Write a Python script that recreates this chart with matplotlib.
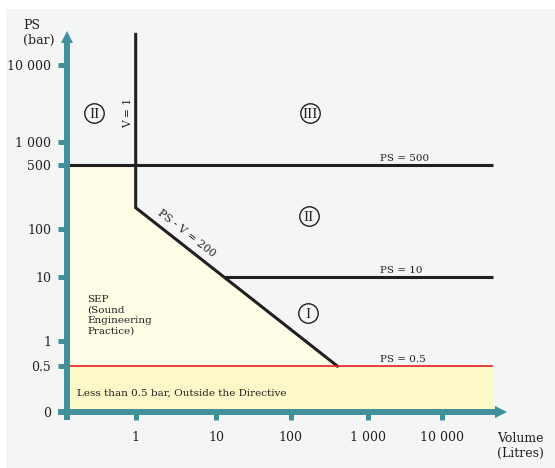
import numpy as np
import matplotlib
matplotlib.use("Agg")
import matplotlib.pyplot as plt
from matplotlib.patches import Rectangle, Polygon
from matplotlib.ticker import FixedLocator, FixedFormatter, NullLocator

plt.rcParams['font.family'] = ['DejaVu Serif']

# ---------------- data ----------------
x_tick_values = [1, 10, 100, 1000, 10000]
x_tick_labels = ["1", "10", "100", "1 000", "10 000"]
y_tick_values = [0, 0.5, 1, 10, 100, 500, 1000, 10000]
y_tick_labels = ["0", "0.5", "1", "10", "100", "500", "1 000", "10 000"]

v_boundary = 1            # V = 1
ps_high = 500             # PS = 500
ps_mid = 10               # PS = 10
ps_low = 0.5              # PS = 0.5
pv_limit = 200            # PS . V = 200
v_right_end = 49000       # right end of horizontal boundaries
ps_top_of_v_line = 25000  # top end of the V = 1 line
v_ps_labels = 1470        # where the "PS = ..." labels start

category_names = ["II", "III", "II", "I"]
category_v = [0.29, 176, 171, 169]
category_ps = [2350, 2350, 153, 2.8]

# ---------------- schematic (hand drawn) axis scales ----------------
X_ANCHOR_LOG = [-1, 0, 1, 2, 3, 4, 5]
X_ANCHOR_PX = [58.7, 135.7, 216, 290.7, 368, 442, 516]
Y_ANCHOR_LOG = [-2, np.log10(0.5), 0, 1, 2, np.log10(200), np.log10(500), 3, 4, 5]
Y_ANCHOR_PX = [411.7, 366, 341, 277.3, 229, 207.7, 165, 141.7, 65, -12]
Y_ANCHOR_NEG = [-p for p in Y_ANCHOR_PX]


def x_fwd(v):
    v = np.asarray(v, dtype=float)
    return np.interp(np.log10(np.clip(v, 1e-3, None)), X_ANCHOR_LOG, X_ANCHOR_PX)


def x_inv(p):
    return 10 ** np.interp(np.asarray(p, dtype=float), X_ANCHOR_PX, X_ANCHOR_LOG)


def y_fwd(v):
    v = np.asarray(v, dtype=float)
    return np.interp(np.log10(np.clip(v, 1e-2, None)), Y_ANCHOR_LOG, Y_ANCHOR_NEG)


def y_inv(p):
    return 10 ** np.interp(np.asarray(p, dtype=float), Y_ANCHOR_NEG, Y_ANCHOR_LOG)


# ---------------- figure ----------------
W, H = 555, 468
TEAL = '#41909c'
INK = '#231f20'
TXT = '#231f20'
AX_L, AX_R, AX_B, AX_T = 67, 506, 411.7, 30

fig = plt.figure(figsize=(W / 100, H / 100), dpi=100)
fig.patch.set_facecolor('white')
fig.patches.append(Rectangle((6 / W, 0), 1, 1 - 9 / H, transform=fig.transFigure,
                             facecolor='#f4f6f6', edgecolor='none', zorder=-10))

ax = fig.add_axes([AX_L / W, (H - AX_B) / H, (AX_R - AX_L) / W, (AX_B - AX_T) / H])
ax.set_facecolor('none')
ax.set_xscale('function', functions=(x_fwd, x_inv))
ax.set_yscale('function', functions=(y_fwd, y_inv))
xmin, xmax = float(x_inv(AX_L)), float(x_inv(AX_R))
ax.set_xlim(xmin, xmax)
ax.set_ylim(0, float(y_inv(-AX_T)))

for s in ax.spines.values():
    s.set_visible(False)

ax.xaxis.set_major_locator(FixedLocator(x_tick_values))
ax.xaxis.set_major_formatter(FixedFormatter(x_tick_labels))
ax.yaxis.set_major_locator(FixedLocator(y_tick_values))
ax.yaxis.set_major_formatter(FixedFormatter(y_tick_labels))
ax.xaxis.set_minor_locator(NullLocator())
ax.yaxis.set_minor_locator(NullLocator())
ax.tick_params(axis='y', direction='out', length=6.5, width=3.6, color=TEAL,
               pad=5, labelsize=9, labelcolor=TXT)
ax.tick_params(axis='x', direction='out', length=6, width=3.6, color=TEAL,
               pad=8, labelsize=9, labelcolor=TXT)


def fx(px):
    return (px - AX_L) / (AX_R - AX_L)


def fy(py):
    return (AX_B - py) / (AX_B - AX_T)


# axis lines with arrow heads
ax.plot([0, 0], [fy(420), fy(40)], transform=ax.transAxes, clip_on=False,
        lw=4.3, color=TEAL, solid_capstyle='butt', zorder=6)
ax.plot([fx(58), fx(498)], [0, 0], transform=ax.transAxes, clip_on=False,
        lw=4.3, color=TEAL, solid_capstyle='butt', zorder=6)
ax.plot([0], [fy(36.5)], marker='^', ms=8.8, color=TEAL, mew=0,
        transform=ax.transAxes, clip_on=False, zorder=6)
ax.plot([fx(500.5)], [0], marker='>', ms=8.8, color=TEAL, mew=0,
        transform=ax.transAxes, clip_on=False, zorder=6)

# regions
v_diag_end = pv_limit / ps_low
ax.add_patch(Polygon([(xmin, ps_low), (xmin, ps_high), (v_boundary, ps_high),
                      (v_boundary, pv_limit), (v_diag_end, ps_low)],
                     closed=True, facecolor='#fefee6', edgecolor='none', zorder=1))
ax.fill_between([xmin, v_right_end], 0, ps_low, color='#fdf8c8', lw=0, zorder=1)

# boundaries
ax.plot([v_boundary, v_boundary, v_diag_end], [ps_top_of_v_line, pv_limit, ps_low],
        color=INK, lw=2.2, solid_joinstyle='miter', zorder=3)
ax.plot([xmin, v_right_end], [ps_high, ps_high], color=INK, lw=2.2,
        solid_capstyle='butt', zorder=3)
ax.plot([xmin, v_right_end], [ps_low, ps_low], color='#e41e26', lw=1.2,
        solid_capstyle='butt', zorder=3)

# intersection of diagonal with PS = 10 (in display space)
p0 = ax.transData.transform((v_boundary, pv_limit))
p1 = ax.transData.transform((v_diag_end, ps_low))
y10 = ax.transData.transform((1, ps_mid))[1]
t = (y10 - p0[1]) / (p1[1] - p0[1])
v_int = ax.transData.inverted().transform((p0[0] + t * (p1[0] - p0[0]), y10))[0]
ax.plot([v_int, v_right_end], [ps_mid, ps_mid], color=INK, lw=2.2,
        solid_capstyle='butt', zorder=3)

# boundary labels
for ps, lab in zip([ps_high, ps_mid, ps_low], ["PS = 500", "PS = 10", "PS = 0.5"]):
    ax.annotate(lab, xy=(v_ps_labels, ps), xytext=(0, 3), textcoords='offset points',
                ha='left', va='baseline', fontsize=7.5, color=TXT, zorder=4)

ax.annotate("V = 1", xy=(v_boundary, 2350), xytext=(-2.2, 0), textcoords='offset points',
            ha='right', va='center', rotation=90, fontsize=7.7, color=TXT, zorder=4)

ang = np.degrees(np.arctan2(p1[1] - p0[1], p1[0] - p0[0]))
tt = 0.22
pm = p0 + tt * (p1 - p0)
pm_data = ax.transData.inverted().transform(pm)
nrm = np.array([-np.sin(np.radians(ang)), np.cos(np.radians(ang))])
off = nrm * 11.0 * 0.72
ax.annotate("PS - V = 200", xy=pm_data, xytext=(off[0], off[1]), textcoords='offset points',
            ha='center', va='center', rotation=ang, rotation_mode='anchor',
            fontsize=7.8, color=TXT, zorder=4)

# category circles
ax.plot(category_v, category_ps, 'o', ms=14, mfc='none', mec=INK, mew=1.0, zorder=4)
for v, ps, name in zip(category_v, category_ps, category_names):
    ax.text(v, ps, name, ha='center', va='center_baseline', fontsize=11,
            family='Liberation Serif', color=INK, zorder=4)

# free texts
def ftext(px, py, s, **kw):
    fig.text(px / W, 1 - py / H, s, color=TXT, **kw)

ftext(23, 33, "PS\n(bar)", ha='left', va='center', fontsize=9)
ftext(497, 446, "Volume\n(Litres)", ha='left', va='center', fontsize=9)
ftext(87, 315.5, "SEP\n(Sound\nEngineering\nPractice)", ha='left', va='center', fontsize=7.5)
ftext(77, 393, "Less than 0.5 bar, Outside the Directive", ha='left', va='center', fontsize=7.5)

fig.savefig("out.png", dpi=100)
